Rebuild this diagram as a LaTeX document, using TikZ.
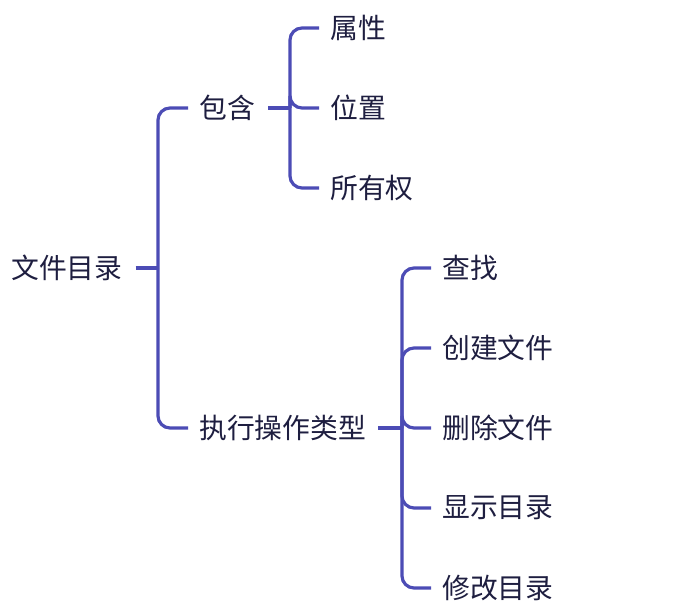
\documentclass[tikz,border=0pt]{standalone}
\usepackage{fontspec}
\newfontfamily\cjk{Noto Sans CJK SC}
\definecolor{linec}{RGB}{76,76,181}
\definecolor{txtc}{RGB}{30,30,64}
\begin{document}
\begin{tikzpicture}[x=1pt,y=-1pt,
  txt/.style={font=\cjk\fontsize{27.8}{28}\selectfont, text=txtc, inner sep=0pt, anchor=west},
  conn/.style={draw=linec, line width=3.2pt, rounded corners=12pt}]
\useasboundingbox (0,0) rectangle (684,612);
% nodes
\node[txt] (root) at (11,268) {文件目录};
\node[txt] (a) at (199,108) {包含};
\node[txt] (b) at (199,428) {执行操作类型};
\node[txt] (a1) at (330,28) {属性};
\node[txt] (a2) at (330,108) {位置};
\node[txt] (a3) at (330,188) {所有权};
\node[txt] (b1) at (442,268) {查找};
\node[txt] (b2) at (442,348) {创建文件};
\node[txt] (b3) at (442,428) {删除文件};
\node[txt] (b4) at (442,508) {显示目录};
\node[txt] (b5) at (442,588) {修改目录};
% junctions
\coordinate (j0) at (158,268);
\coordinate (ja) at (290,108);
\coordinate (jb) at (402,428);
% root
\draw[conn] ([xshift=13pt]root.east) -- (j0);
\draw[conn] (j0) |- ([xshift=-11pt]a.west);
\draw[conn] (j0) |- ([xshift=-11pt]b.west);
% a
\draw[conn] ([xshift=13pt]a.east) -- (ja);
\foreach \c in {a1,a2,a3}{\draw[conn] (ja) |- ([xshift=-11pt]\c.west);}
% b
\draw[conn] ([xshift=12pt]b.east) -- (jb);
\foreach \c in {b1,b2,b3,b4,b5}{\draw[conn] (jb) |- ([xshift=-11pt]\c.west);}
\end{tikzpicture}
\end{document}
